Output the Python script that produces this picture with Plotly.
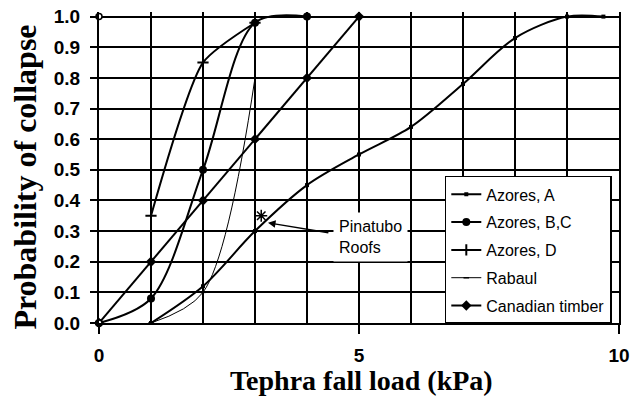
import plotly.graph_objects as go

# tephra load (kPa) vs probability of roof collapse
azores_a_load = [1, 2, 3, 4, 5, 6, 7, 8, 9, 9.7]
azores_a_prob = [0, 0.12, 0.3, 0.45, 0.55, 0.64, 0.78, 0.93, 1.0, 1.0]

azores_bc_load = [0, 1, 2, 3, 4]
azores_bc_prob = [0, 0.08, 0.5, 0.98, 1.0]

azores_d_load = [1, 2, 3]
azores_d_prob = [0.35, 0.85, 0.98]

rabaul_load = [1, 2, 3]
rabaul_prob = [0, 0.1, 0.8]

timber_load = [0, 1, 2, 3, 4, 5]
timber_prob = [0, 0.2, 0.4, 0.6, 0.8, 1.0]

pinatubo_load = [3.12]
pinatubo_prob = [0.35]

corner_load = [0, 0]
corner_prob = [0, 1.0]

x_ticks = [0, 5, 10]
y_ticks = [0, 0.1, 0.2, 0.3, 0.4, 0.5, 0.6, 0.7, 0.8, 0.9, 1.0]

SANS = "Liberation Sans, Arial, sans-serif"
SERIF = "Liberation Serif, Times New Roman, serif"

# name, x, y, line shape, smoothing, line width, marker
series = [
    ("Azores, A", azores_a_load, azores_a_prob, "spline", 0.9, 2, dict(symbol="square", size=4)),
    ("Azores, B,C", azores_bc_load, azores_bc_prob, "spline", 0.9, 2, dict(symbol="circle", size=8)),
    ("Azores, D", azores_d_load, azores_d_prob, "spline", 0.6, 2,
     dict(symbol="cross-thin", size=8, line=dict(width=2, color="black"))),
    ("Rabaul", rabaul_load, rabaul_prob, "spline", 0.9, 1,
     dict(symbol="line-ew", size=4, line=dict(width=1.5, color="black"))),
    ("Canadian timber", timber_load, timber_prob, "linear", 0, 2, dict(symbol="diamond", size=8)),
]

fig = go.Figure()
for i, (name, xs, ys, shape, smooth, lw, marker) in enumerate(series):
    line = dict(color="black", width=lw, shape=shape)
    if shape == "spline":
        line["smoothing"] = smooth
    fig.add_trace(
        go.Scatter(
            x=xs,
            y=ys,
            name=name,
            mode="lines+markers",
            line=line,
            marker=dict(color="black", **marker),
            legendgroup=f"g{i}",
            cliponaxis=False,
        )
    )

fig.add_trace(
    go.Scatter(
        x=pinatubo_load,
        y=pinatubo_prob,
        mode="markers",
        marker=dict(symbol="asterisk-open", size=10, color="black", line=dict(width=1.5, color="black")),
        showlegend=False,
        cliponaxis=False,
    )
)
fig.add_trace(
    go.Scatter(
        x=corner_load,
        y=corner_prob,
        mode="markers",
        marker=dict(symbol="circle", size=6, color="white", line=dict(width=1.5, color="black")),
        showlegend=False,
        cliponaxis=False,
    )
)

# Pinatubo label and arrow
fig.add_annotation(
    x=4.5, y=0.28, xref="x", yref="y",
    text="Pinatubo<br>Roofs", showarrow=False, align="left",
    xanchor="left", yanchor="middle",
    font=dict(family=SANS, size=16, color="black"),
    bgcolor="white", borderpad=5,
)
fig.add_annotation(
    x=3.25, y=0.327, ax=4.44, ay=0.294, xref="x", yref="y", axref="x", ayref="y",
    text="", showarrow=True, arrowhead=2, arrowsize=1, arrowwidth=1.5, arrowcolor="black",
)

# axis titles
fig.add_annotation(
    x=-0.142, y=0.468, xref="paper", yref="paper", textangle=-90,
    xanchor="center", yanchor="middle",
    text="<b>Probability of collapse</b>", showarrow=False,
    font=dict(family=SERIF, size=32, color="black"),
)
fig.add_annotation(
    x=0.504, y=-0.185, xref="paper", yref="paper",
    xanchor="center", yanchor="middle",
    text="<b>Tephra fall load (kPa)</b>", showarrow=False,
    font=dict(family=SERIF, size=28, color="black"),
)

fig.update_layout(
    width=633,
    height=404,
    margin=dict(l=99, r=14, t=12, b=81, autoexpand=False),
    paper_bgcolor="white",
    plot_bgcolor="white",
    showlegend=True,
    legend=dict(
        x=0.665, y=0.473, xanchor="left", yanchor="top",
        bgcolor="white", bordercolor="black", borderwidth=1.5,
        font=dict(family=SANS, size=16, color="black"),
        tracegroupgap=4,
    ),
)
fig.update_xaxes(
    range=[0, 10],
    tickvals=x_ticks,
    ticks="outside", ticklen=9, tickwidth=2, tickcolor="black",
    tickfont=dict(family=SANS, size=19, color="black", weight="bold"),
    ticklabelstandoff=5,
    showgrid=True, gridcolor="black", gridwidth=2,
    minor=dict(dtick=1, showgrid=True, gridcolor="black", gridwidth=2),
    showline=True, linecolor="black", linewidth=2,
    zeroline=False, automargin=False,
)
fig.update_yaxes(
    range=[0, 1.015],
    tickvals=y_ticks,
    tickformat=".1f",
    ticks="outside", ticklen=7, tickwidth=2, tickcolor="black",
    tickfont=dict(family=SANS, size=19, color="black", weight="bold"),
    ticklabelstandoff=6,
    showgrid=True, gridcolor="black", gridwidth=2,
    showline=True, linecolor="black", linewidth=2, mirror=True,
    zeroline=False, automargin=False,
)

fig.write_html(
    "out.html",
    config={"displayModeBar": False},
    post_script="document.body.style.margin='0';",
)
